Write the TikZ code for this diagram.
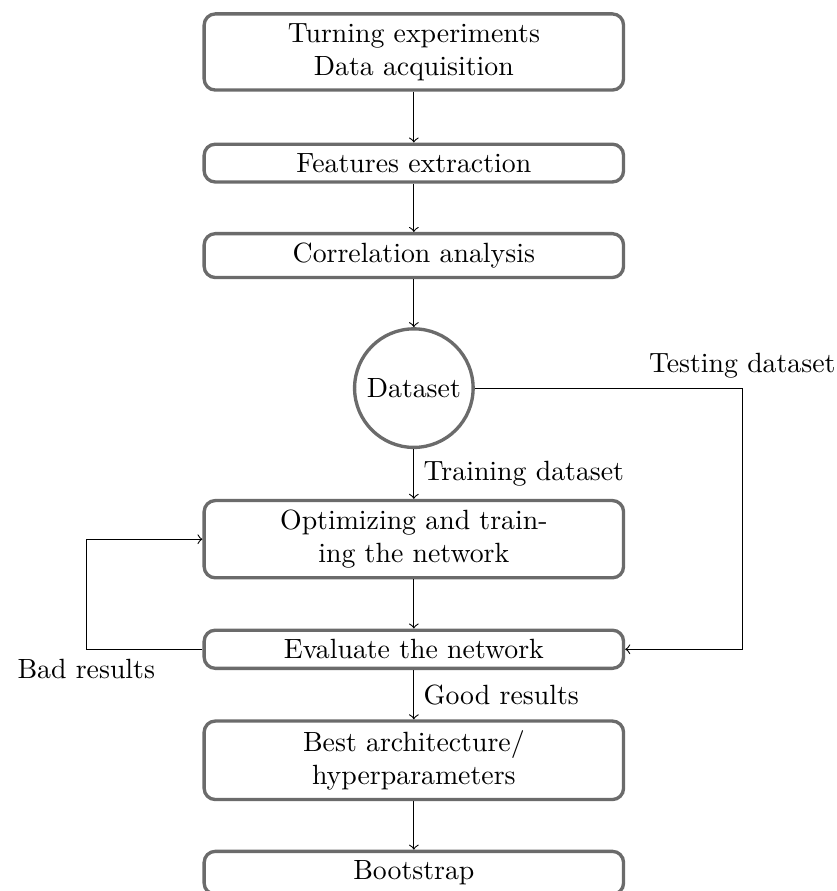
\documentclass[tikz,border=0pt]{standalone}
\usepackage{xcolor}
\usetikzlibrary{calc}
\definecolor{cgray}{HTML}{6B6B6B}
\definecolor{cbk}{HTML}{000000}

\begin{document}
\begin{tikzpicture}
    \useasboundingbox (0,0) rectangle (10.57,-11.26);
    \begin{scope}[every node/.style={rectangle, rounded corners=4pt, draw=cgray, very thick, minimum width=5.3cm, align=center, text=cbk}]
        \node (s1) at (5.23,-0.657) {Turning experiments\\Data acquisition};
        \node (s2) at (5.23,-2.061) {Features extraction};
        \node (s3) at (5.23,-3.230) {Correlation analysis};
        \node (s4) at (5.23,-6.814) {Optimizing and train-\\ing the network};
        \node (s5) at (5.23,-8.205) {Evaluate the network};
        \node (s6) at (5.23,-9.608) {Best architecture/\\hyperparameters};
        \node (s7) at (5.23,-11.03) {Bootstrap};
    \end{scope}
    \node (ds) [circle, draw=cgray, very thick, minimum size=1.48cm, text=cbk] at (5.23,-4.905) {Dataset};
    \foreach \i/\j in {s1/s2, s2/s3, s3/ds, s4/s5, s6/s7} \draw[->, draw=cbk] (\i) -- (\j);
    \draw[->, draw=cbk] (ds) -- node (trl) [right] {Training dataset} (s4);
    \draw[->, draw=cbk] (s5) -- node (gdl) [right] {Good results} (s6);
    % feedback lines
    \coordinate (tc) at (9.38,-4.905);
    \coordinate (bc) at (1.09,-8.205);
    \draw[->, draw=cbk] (ds.east) -- (tc) |- (s5.east);
    \node (tsl) [above] at (tc) {Testing dataset};
    \draw[->, draw=cbk] (s5.west) -- (bc) |- (s4.west);
    \node (bdl) [below] at (bc) {Bad results};
\end{tikzpicture}
\end{document}
